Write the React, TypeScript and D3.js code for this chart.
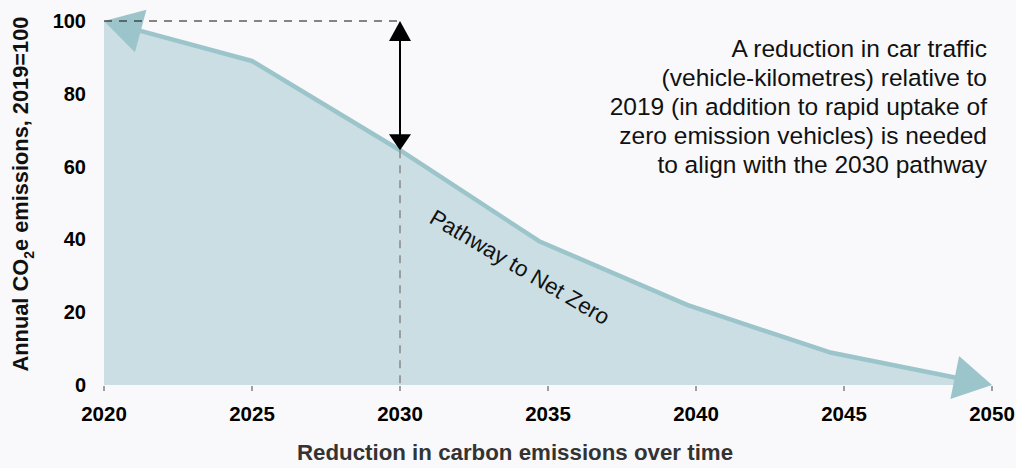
import React from "react";
import * as d3 from "d3";

const years = [2020, 2025, 2030, 2034.7, 2039.7, 2044.5, 2050];
const values = [100, 89, 64.5, 39.5, 22, 9, 0];
const xTicks = [2020, 2025, 2030, 2035, 2040, 2045, 2050];
const yTicks = [0, 20, 40, 60, 80, 100];
const noteLines = [
  "A reduction in car traffic",
  "(vehicle-kilometres) relative to",
  "2019 (in addition to rapid uptake of",
  "zero emission vehicles) is needed",
  "to align with the 2030 pathway",
];

const W = 1016;
const H = 468;
const FONT = "Liberation Sans, Arial, sans-serif";

export default function App() {
  const x = d3.scaleLinear().domain([2020, 2050]).range([104, 992]);
  const y = d3.scaleLinear().domain([0, 100]).range([385, 21]);
  const pts: [number, number][] = years.map((yr, i) => [x(yr), y(values[i])]);

  const area = d3
    .area<[number, number]>()
    .x((d) => d[0])
    .y0(y(0))
    .y1((d) => d[1])(pts);

  const arrowLen = 38;
  const arrowHalf = 22;
  function head(tip: [number, number], from: [number, number]) {
    const dx = from[0] - tip[0];
    const dy = from[1] - tip[1];
    const L = Math.hypot(dx, dy);
    const ux = dx / L, uy = dy / L;
    const bx = tip[0] + ux * arrowLen, by = tip[1] + uy * arrowLen;
    const px = -uy, py = ux;
    return {
      poly: [
        [tip[0], tip[1]],
        [bx + px * arrowHalf, by + py * arrowHalf],
        [bx - px * arrowHalf, by - py * arrowHalf],
      ] as [number, number][],
      base: [tip[0] + ux * (arrowLen - 4), tip[1] + uy * (arrowLen - 4)] as [number, number],
    };
  }
  const n = pts.length;
  const hL = head(pts[0], pts[1]);
  const hR = head(pts[n - 1], pts[n - 2]);
  const linePts = [hL.base, ...pts.slice(1, n - 1), hR.base];
  const line = d3.line()(linePts);

  const x30 = x(2030);
  const y30 = y(values[2]);
  const yTop = y(100);

  return (
    <div style={{ position: "absolute", left: 0, top: 0 }}>
      <svg width={W} height={H} style={{ display: "block" }} fontFamily={FONT}>
        <rect width={W} height={H} fill="#f9f9fb" />
        <path d={area || ""} fill="#cadee3" />
        <path d={line || ""} fill="none" stroke="#9cc5cb" strokeWidth={4.5} strokeLinejoin="round" />
        <polygon points={hL.poly.map((p) => p.join(",")).join(" ")} fill="#9cc5cb" />
        <polygon points={hR.poly.map((p) => p.join(",")).join(" ")} fill="#9cc5cb" />

        <line x1={x(2020)} x2={x30} y1={yTop} y2={yTop} stroke="#111" strokeWidth={1.2} strokeDasharray="8,7" />
        <line x1={x30} x2={x30} y1={y30} y2={y(0)} stroke="#888" strokeWidth={1.5} strokeDasharray="8,7" />

        <line x1={x30} x2={x30} y1={yTop + 16} y2={y30 - 12} stroke="#000" strokeWidth={2} />
        <polygon points={`${x30},${yTop} ${x30 - 11},${yTop + 20} ${x30 + 11},${yTop + 20}`} fill="#000" />
        <polygon points={`${x30},${y30} ${x30 - 11},${y30 - 16} ${x30 + 11},${y30 - 16}`} fill="#000" />

        {xTicks.map((t) => (
          <g key={t}>
            <line x1={x(t)} x2={x(t)} y1={y(0) + 1} y2={y(0) + 6} stroke="#444" strokeWidth={1} />
            <text x={x(t)} y={421} textAnchor="middle" fontSize={20.5} fontWeight="bold" fill="#000">
              {t}
            </text>
          </g>
        ))}
        {yTicks.map((t) => (
          <text key={t} x={86} y={y(t) + 7} textAnchor="end" fontSize={20} fontWeight="bold" fill="#000">
            {t}
          </text>
        ))}

        <text x={515} y={460} textAnchor="middle" fontSize={22.3} fontWeight="bold" fill="#333">
          Reduction in carbon emissions over time
        </text>
        <text
          transform={`translate(28,${194}) rotate(-90)`}
          textAnchor="middle"
          fontSize={21.8}
          fontWeight="bold"
          fill="#111"
        >
          Annual CO
          <tspan fontSize={14} dy={6}>2</tspan>
          <tspan dy={-6}>e emissions, 2019=100</tspan>
        </text>

        {noteLines.map((l, i) => (
          <text key={i} x={987} y={57 + i * 29} textAnchor="end" fontSize={24.5} fill="#111">
            {l}
          </text>
        ))}

        <text transform="translate(428,222) rotate(30.5)" fontSize={22.4} fill="#111">
          Pathway to Net Zero
        </text>
      </svg>
    </div>
  );
}
